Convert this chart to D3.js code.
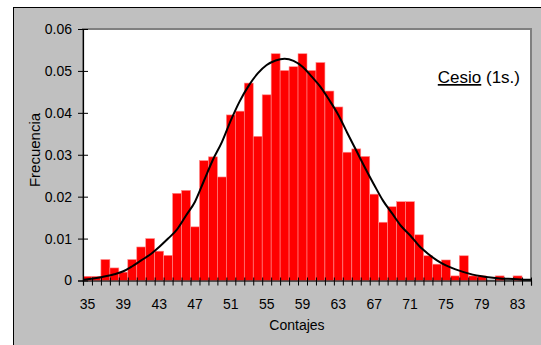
<!DOCTYPE html>
<html>
<head>
<meta charset="utf-8">
<script src="https://cdn.jsdelivr.net/npm/d3@7"></script>
<style>
  html, body { margin: 0; padding: 0; background: #ffffff; }
  svg { display: block; }
  text { font-family: "Liberation Sans", Arial, sans-serif; fill: #000; }
</style>
</head>
<body>
<svg id="chart" width="541" height="345"></svg>
<script>
// Counts per channel (Contajes), 35 .. 84
const categories = d3.range(35, 85);

// Relative frequency of each count value
const frequencies = [
  0.0010, 0.0010, 0.0050, 0.0030, 0.0020, 0.0050, 0.0080, 0.0100, 0.0070, 0.0060,
  0.0208, 0.0215, 0.0128, 0.0286, 0.0295, 0.0247, 0.0395, 0.0404, 0.0471, 0.0344,
  0.0443, 0.0541, 0.0501, 0.0510, 0.0541, 0.0501, 0.0520, 0.0452, 0.0414, 0.0306,
  0.0314, 0.0296, 0.0206, 0.0139, 0.0176, 0.0188, 0.0188, 0.0109, 0.0059, 0.0039,
  0.0049, 0.0011, 0.0059, 0.0011, 0.0011, 0.0000, 0.0011, 0.0000, 0.0011, 0.0000
];

// Fitted distribution curve, sampled at each count value
const curveValues = [
  0.0003, 0.0006, 0.0010, 0.0015, 0.0022, 0.0034, 0.0048, 0.0062, 0.0080, 0.0100,
  0.0122, 0.0155, 0.0188, 0.0238, 0.0288, 0.0330, 0.0382, 0.0428, 0.0465, 0.0494,
  0.0514, 0.0525, 0.0529, 0.0524, 0.0510, 0.0487, 0.0462, 0.0430, 0.0395, 0.0352,
  0.0310, 0.0268, 0.0228, 0.0190, 0.0160, 0.0130, 0.0108, 0.0083, 0.0064, 0.0048,
  0.0036, 0.0027, 0.0020, 0.0014, 0.0010, 0.0007, 0.0005, 0.0004, 0.0003, 0.0002
];

const yTicks = [0, 0.01, 0.02, 0.03, 0.04, 0.05, 0.06];
const xTickLabels = d3.range(35, 85, 4);

const svg = d3.select("#chart");
const plot = { left: 83, top: 29, right: 531, bottom: 280.5 };

// Outer chart frame
svg.append("rect")
  .attr("x", 13.5).attr("y", 7.5)
  .attr("width", 700).attr("height", 500)
  .attr("fill", "#c0c0c0")
  .attr("stroke", "#000").attr("stroke-width", 1);

// Plot area
svg.append("rect")
  .attr("x", plot.left).attr("y", plot.top)
  .attr("width", plot.right - plot.left).attr("height", plot.bottom - plot.top)
  .attr("fill", "#ffffff")
  .attr("stroke", "#808080").attr("stroke-width", 2);

const x = d3.scaleBand().domain(categories).range([plot.left, plot.right]).padding(0);
const xLin = d3.scaleLinear().domain([34.5, 84.5]).range([plot.left, plot.right]);
const y = d3.scaleLinear().domain([0, 0.06]).range([plot.bottom, plot.top]);

// Histogram bars
svg.append("g")
  .selectAll("rect")
  .data(categories.map((c, i) => ({ c, v: frequencies[i] })))
  .join("rect")
  .attr("x", d => x(d.c))
  .attr("y", d => y(d.v))
  .attr("width", x.bandwidth())
  .attr("height", d => y(0) - y(d.v))
  .attr("fill", "#ff0000")
  .attr("stroke", "#ff8c8c")
  .attr("stroke-width", 0.6);

// Distribution curve
const line = d3.line()
  .x(d => xLin(d.c))
  .y(d => y(d.v))
  .curve(d3.curveMonotoneX);

const curvePts = [{ c: 34.5, v: 0.0002 }]
  .concat(categories.map((c, i) => ({ c, v: curveValues[i] })))
  .concat([{ c: 84.5, v: 0.0002 }]);

svg.append("path")
  .datum(curvePts)
  .attr("d", line)
  .attr("fill", "none")
  .attr("stroke", "#000")
  .attr("stroke-width", 2);

// Y axis
const yAxis = svg.append("g")
  .attr("transform", `translate(${plot.left},0)`)
  .call(d3.axisLeft(y).tickValues(yTicks)
    .tickFormat(d => d === 0 ? "0" : d3.format(".2f")(d))
    .tickSize(5).tickPadding(6));
yAxis.select(".domain").attr("stroke", "#000").attr("stroke-width", 1.2);
yAxis.selectAll(".tick line").attr("x1", -5).attr("x2", 5).attr("stroke", "#000");
yAxis.selectAll(".tick text")
  .attr("font-size", 14)
  .attr("font-family", "Liberation Sans, Arial, sans-serif");

// X axis: ticks on bin boundaries
const boundaries = d3.range(34.5, 85, 1);
const xAxis = svg.append("g")
  .attr("transform", `translate(0,${plot.bottom})`)
  .call(d3.axisBottom(xLin).tickValues(boundaries).tickFormat("").tickSize(5));
xAxis.select(".domain").attr("stroke", "#000").attr("stroke-width", 1.2);
xAxis.selectAll(".tick line").attr("y1", -3).attr("y2", 5).attr("stroke", "#000");

// X labels centred on bins
const xLab = svg.append("g")
  .attr("transform", `translate(0,${plot.bottom})`)
  .call(d3.axisBottom(x).tickValues(xTickLabels).tickSize(0).tickPadding(19));
xLab.select(".domain").remove();
xLab.selectAll(".tick text")
  .attr("font-size", 14)
  .attr("font-family", "Liberation Sans, Arial, sans-serif");

// Axis titles
svg.append("text")
  .attr("x", 297).attr("y", 330)
  .attr("text-anchor", "middle")
  .attr("font-size", 14)
  .text("Contajes");

svg.append("text")
  .attr("transform", "translate(40,150) rotate(-90)")
  .attr("text-anchor", "middle")
  .attr("font-size", 15)
  .text("Frecuencia");

// Title label
const title = svg.append("text")
  .attr("x", 520).attr("y", 83)
  .attr("text-anchor", "end")
  .attr("font-size", 17);
title.append("tspan").attr("text-decoration", "underline").text("Cesio");
title.append("tspan").text(" (1s.)");
</script>
</body>
</html>
